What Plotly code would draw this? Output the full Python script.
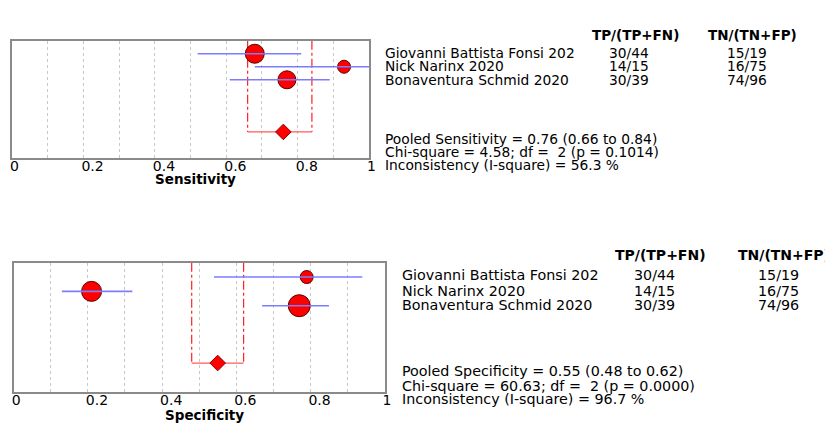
import plotly.graph_objects as go

# the page keeps the browser's 8px body margin, so the figure is drawn 8px smaller
W, H = 833, 425
OFF = 8
FW, FH = W - OFF, H - OFF

# study table
studies = ["Giovanni Battista Fonsi 202", "Nick Narinx 2020", "Bonaventura Schmid 2020"]
tp_text = ["30/44", "14/15", "30/39"]
tn_text = ["15/19", "16/75", "74/96"]

# sensitivity panel (point estimate, lower / upper CI)
sens = [0.68, 0.93, 0.77]
sens_lo = [0.52, 0.68, 0.61]
sens_hi = [0.81, 1.00, 0.89]
sens_pooled = [0.76, 0.66, 0.84]
sens_stats = ["Pooled Sensitivity = 0.76 (0.66 to 0.84)",
              "Chi-square = 4.58; df = \u00a02 (p = 0.1014)",
              "Inconsistency (I-square) = 56.3 %"]

# specificity panel
spec = [0.79, 0.21, 0.77]
spec_lo = [0.54, 0.13, 0.67]
spec_hi = [0.94, 0.32, 0.85]
spec_pooled = [0.55, 0.48, 0.62]
spec_stats = ["Pooled Specificity = 0.55 (0.48 to 0.62)",
              "Chi-square = 60.63; df = \u00a02 (p = 0.0000)",
              "Inconsistency (I-square) = 96.7 %"]

tick_vals = [0, 0.2, 0.4, 0.6, 0.8, 1]
tick_text = ["0", "0.2", "0.4", "0.6", "0.8", "1"]

FONT = "DejaVu Sans, Verdana, sans-serif"


def px_x(p):
    return (p - OFF) / FW


def px_y(p):
    return 1 - (p - OFF) / FH


def add_panel(fig, n, est, lo, hi, pooled, sizes):
    xa = "x" if n == 1 else f"x{n}"
    ya = "y" if n == 1 else f"y{n}"
    rows = list(range(1, len(est) + 1))
    pooled_row = len(est) + 4

    # pooled CI bracket: dash-dot verticals + solid base
    fig.add_trace(go.Scatter(
        x=[pooled[1], pooled[1], None, pooled[2], pooled[2]],
        y=[0, pooled_row, None, 0, pooled_row],
        mode="lines", line=dict(color="#FF2020", width=1.2, dash="dashdot"),
        xaxis=xa, yaxis=ya, showlegend=False, hoverinfo="skip"))
    fig.add_trace(go.Scatter(
        x=[pooled[1], pooled[2]], y=[pooled_row, pooled_row],
        mode="lines", line=dict(color="#FF5A5A", width=1.3),
        xaxis=xa, yaxis=ya, showlegend=False, hoverinfo="skip"))

    # study estimates
    fig.add_trace(go.Scatter(
        x=est, y=rows, mode="markers",
        marker=dict(symbol="circle", size=sizes, color="#FF0000", opacity=1,
                    line=dict(color="#5A0000", width=1)),
        xaxis=xa, yaxis=ya, showlegend=False))

    # confidence intervals drawn over the markers
    ci_x, ci_y = [], []
    for r, l, h in zip(rows, lo, hi):
        ci_x += [l, h, None]
        ci_y += [r, r, None]
    fig.add_trace(go.Scatter(
        x=ci_x, y=ci_y, mode="lines", line=dict(color="#7C7CFF", width=1.6),
        xaxis=xa, yaxis=ya, showlegend=False, hoverinfo="skip"))

    # pooled diamond
    fig.add_trace(go.Scatter(
        x=[pooled[0]], y=[pooled_row], mode="markers",
        marker=dict(symbol="diamond", size=12, color="#FF0000", opacity=1,
                    line=dict(color="#8A0000", width=1)),
        xaxis=xa, yaxis=ya, showlegend=False))


def axis_x(domain, anchor):
    return dict(
        domain=domain, anchor=anchor, range=[0, 1],
        tickmode="array", tickvals=tick_vals, ticktext=tick_text,
        tickfont=dict(size=14, color="black", family=FONT), ticks="",
        ticklabelposition="outside right", ticklabelshift=-3,
        ticklabelstandoff=-6, ticklabeloverflow="allow",
        showgrid=True, gridcolor="#C8C8C8", griddash="dot", gridwidth=1,
        minor=dict(tickmode="linear", tick0=0, dtick=0.1, showgrid=True,
                   gridcolor="#C8C8C8", griddash="dot", gridwidth=1),
        showline=True, mirror=True, linecolor="#8A8A8A", linewidth=2,
        zeroline=False, fixedrange=True)


def axis_y(domain, anchor):
    return dict(
        domain=domain, anchor=anchor, range=[9, 0],
        showticklabels=False, ticks="", showgrid=False, zeroline=False,
        showline=True, mirror=True, linecolor="#8A8A8A", linewidth=2,
        fixedrange=True)


def add_text(fig, x_name, x_tp, x_tn, x_head_tp, x_head_tn, y_head, y_rows, y_stats,
             stats, size, head_size):
    ann = []
    ann.append(dict(x=px_x(x_head_tp), y=px_y(y_head), text="<b>TP/(TP+FN)</b>",
                    xanchor="center", size=head_size))
    ann.append(dict(x=px_x(x_head_tn), y=px_y(y_head), text="<b>TN/(TN+FP)</b>",
                    xanchor="left", size=head_size))
    for name, tp, tn, yy in zip(studies, tp_text, tn_text, y_rows):
        ann.append(dict(x=px_x(x_name), y=px_y(yy), text=name, xanchor="left", size=size))
        ann.append(dict(x=px_x(x_tp), y=px_y(yy), text=tp, xanchor="center", size=size))
        ann.append(dict(x=px_x(x_tn), y=px_y(yy), text=tn, xanchor="center", size=size))
    for s, yy in zip(stats, y_stats):
        ann.append(dict(x=px_x(x_name), y=px_y(yy), text=s, xanchor="left", size=size))
    for a in ann:
        sz = a.pop("size")
        a.update(xref="paper", yref="paper", yanchor="middle", showarrow=False,
                 borderpad=0, font=dict(size=sz, color="black", family=FONT))
        fig.add_annotation(**a)


def add_axis_title(fig, text, x, y):
    fig.add_annotation(x=px_x(x), y=px_y(y), xref="paper", yref="paper",
                       text=f"<b>{text}</b>", showarrow=False, borderpad=0,
                       xanchor="center", yanchor="middle",
                       font=dict(size=13.5, color="black", family=FONT))


fig = go.Figure()
add_panel(fig, 1, sens, sens_lo, sens_hi, sens_pooled, [19, 13, 18])
add_panel(fig, 2, spec, spec_lo, spec_hi, spec_pooled, [13, 20, 22])

add_text(fig, 386, 634, 753, 640, 713, 35, [53, 66, 79.5], [139, 152, 165], sens_stats, 13.8, 13.5)
add_text(fig, 403, 660, 785, 666, 743, 255, [275, 290.5, 305], [371, 385.5, 399], spec_stats, 14.3, 14)

add_axis_title(fig, "Sensitivity", 196, 179)
add_axis_title(fig, "Specificity", 205, 415)

fig.update_layout(
    width=FW, height=FH,
    margin=dict(l=0, r=0, t=0, b=0),
    paper_bgcolor="white", plot_bgcolor="white",
    font=dict(family=FONT, color="black"),
    showlegend=False,
    xaxis=axis_x([px_x(10), px_x(371)], "y"),
    yaxis=axis_y([px_y(158), px_y(40.7)], "x"),
    xaxis2=axis_x([px_x(11.7), px_x(386.7)], "y2"),
    yaxis2=axis_y([px_y(391.7), px_y(262.7)], "x2"),
)

fig.write_html("out.html")
